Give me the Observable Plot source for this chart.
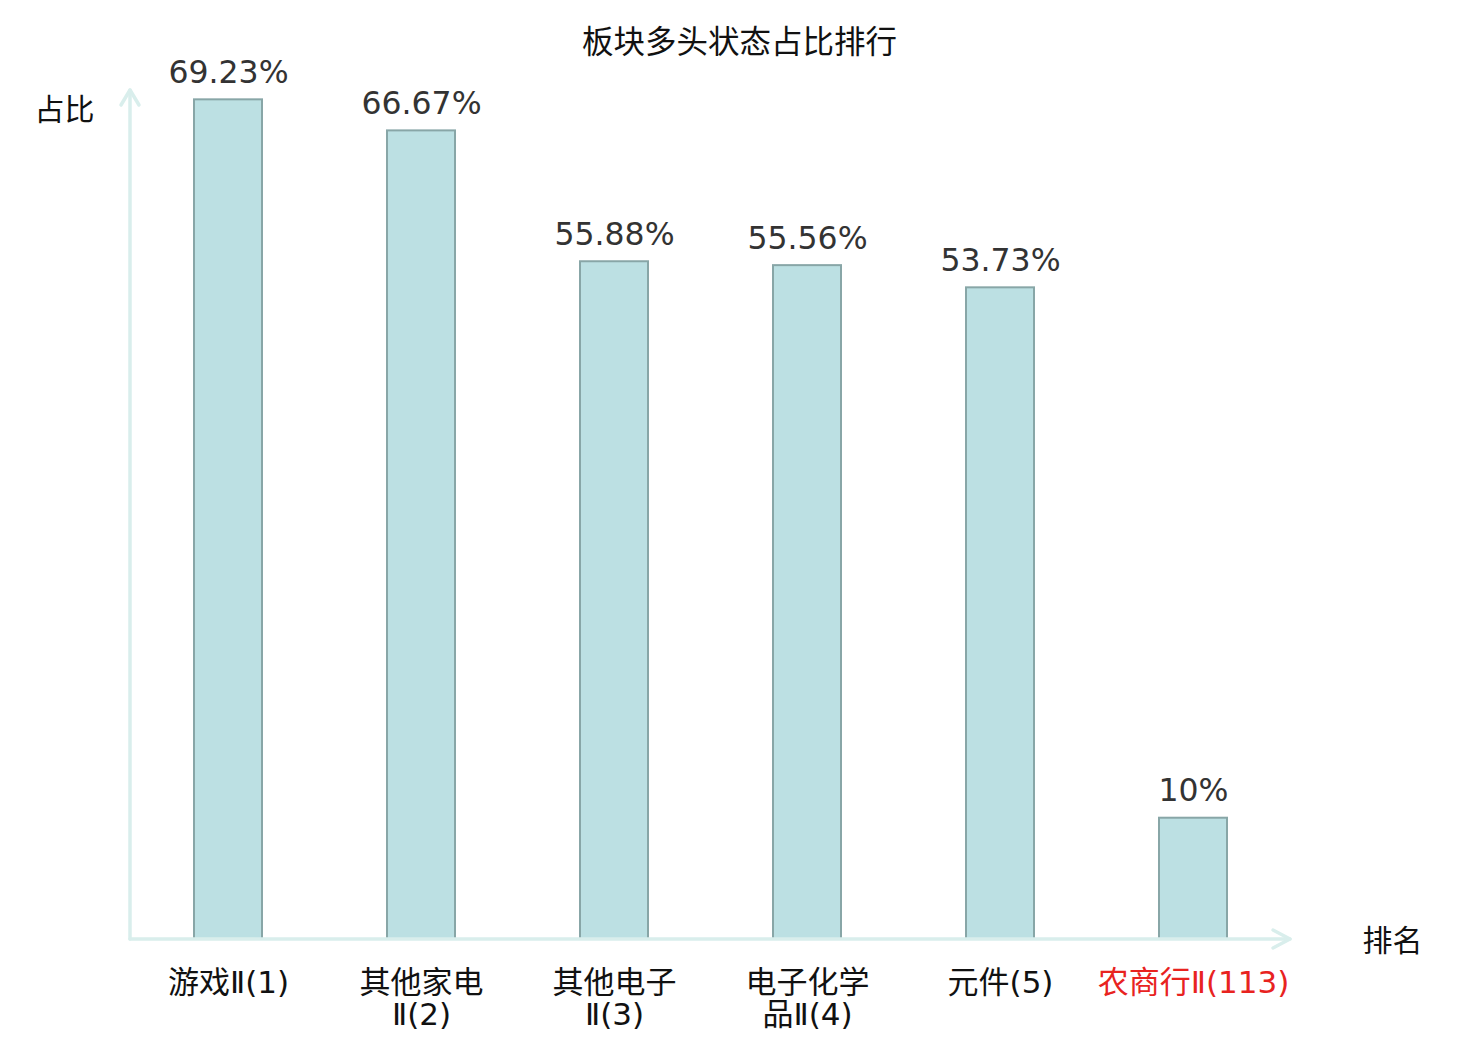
<!DOCTYPE html>
<html>
<head>
<meta charset="utf-8">
<script src="https://cdn.jsdelivr.net/npm/d3@7"></script>
<script src="https://cdn.jsdelivr.net/npm/@observablehq/plot@0.6"></script>
<style>
  html, body { margin: 0; padding: 0; background: #fff; }
  #chart svg { display: block; }
</style>
</head>
<body>
<div id="chart"></div>
<script>
const categories = ["游戏Ⅱ(1)", "其他家电Ⅱ(2)", "其他电子Ⅱ(3)", "电子化学品Ⅱ(4)", "元件(5)", "农商行Ⅱ(113)"];
const tickLabels = ["游戏Ⅱ(1)", "其他家电\nⅡ(2)", "其他电子\nⅡ(3)", "电子化学\n品Ⅱ(4)", "元件(5)", "农商行Ⅱ(113)"];
const values = [69.23, 66.67, 55.88, 55.56, 53.73, 10];
const valueLabels = ["69.23%", "66.67%", "55.88%", "55.56%", "53.73%", "10%"];
const highlight = ["农商行Ⅱ(113)"];
const title = "板块多头状态占比排行";
const yLabel = "占比";
const xLabel = "排名";

const data = categories.map((c, i) => ({
  cat: c, tick: tickLabels[i], value: values[i], label: valueLabels[i],
  red: highlight.includes(c)
}));

const font = "'DejaVu Sans', 'Noto Sans CJK SC', sans-serif";
const axisColor = "#d9eeec";

function axesWithArrows(index, scales, values, dims) {
  const x0 = dims.marginLeft;
  const x1 = dims.width - dims.marginRight;
  const y0 = dims.height - dims.marginBottom;
  const y1 = dims.marginTop;
  const g = d3.create("svg:g")
    .attr("fill", "none")
    .attr("stroke", axisColor)
    .attr("stroke-width", 3.5)
    .attr("stroke-linecap", "round")
    .attr("stroke-linejoin", "round");
  g.append("path").attr("d", `M${x0},${y0}L${x0},${y1}`);
  g.append("path").attr("d", `M${x0 - 9},${y1 + 15}L${x0},${y1}L${x0 + 9},${y1 + 15}`);
  g.append("path").attr("d", `M${x0},${y0}L${x1},${y0}`);
  g.append("path").attr("d", `M${x1 - 17},${y0 - 9}L${x1},${y0}L${x1 - 17},${y0 + 9}`);
  return g.node();
}

const chart = Plot.plot({
  width: 1480,
  height: 1040,
  marginLeft: 130,
  marginRight: 190,
  marginTop: 90,
  marginBottom: 101,
  style: { fontFamily: font, background: "#fff" },
  x: { domain: categories, paddingInner: 0.648, paddingOuter: 0.324, axis: null },
  y: { domain: [0, 70], axis: null },
  marks: [
    Plot.barY(data, {
      x: "cat", y: "value",
      fill: "#bce0e3", stroke: "#88a6a7", strokeWidth: 2
    }),
    axesWithArrows,
    Plot.text(data, {
      x: "cat", y: "value", text: "label",
      lineAnchor: "bottom", dy: -17,
      fontSize: 31.5, fill: "#333"
    }),
    Plot.text(data, {
      x: "cat", text: "tick", frameAnchor: "bottom",
      lineAnchor: "top", dy: 30, lineHeight: 1.05,
      fontSize: 31, fill: d => d.red ? "#e8231f" : "#111"
    }),
    Plot.text([title], {
      text: d => d, frameAnchor: "top", dx: 29, dy: -48,
      lineAnchor: "middle", fontSize: 31.5, fill: "#111"
    }),
    Plot.text([yLabel], {
      text: d => d, frameAnchor: "top-left", textAnchor: "start",
      dx: -96, dy: 20, lineAnchor: "middle", fontSize: 30, fill: "#111"
    }),
    Plot.text([xLabel], {
      text: d => d, frameAnchor: "bottom-right", textAnchor: "start",
      dx: 72, dy: 2, lineAnchor: "middle", fontSize: 30, fill: "#111"
    })
  ]
});

document.getElementById("chart").appendChild(chart);
</script>
</body>
</html>
